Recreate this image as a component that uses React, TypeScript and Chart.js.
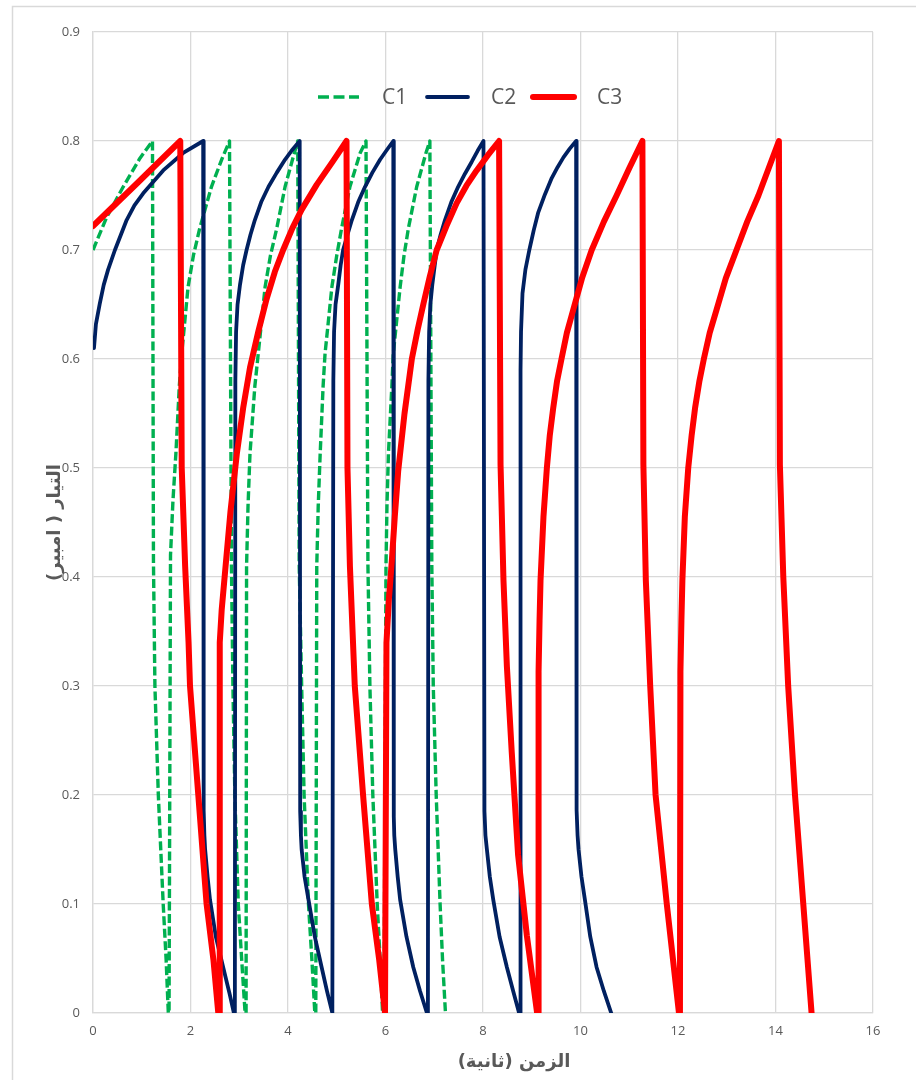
import React, { useEffect, useRef } from "react";
import { Chart, registerables } from "chart.js";

Chart.register(...registerables);

// ---------- data ----------
const seriesLabels = ["C1", "C2", "C3"];
const xAxisTitle = "الزمن (ثانية)";
const yAxisTitle = "التيار ( امبير)";
const xMin = 0, xMax = 16, xStep = 2;
const yMin = 0, yMax = 0.9, yStep = 0.1;

// [time (s), current (A)]
const c1Points = [
  [0.00,0.700],[0.28,0.730],[0.62,0.758],[0.96,0.784],[1.22,0.800],
  [1.24,0.415],[1.27,0.30],[1.34,0.20],[1.44,0.10],[1.50,0.049],[1.545,0],
  [1.56,0],[1.59,0.42],[1.64,0.47],[1.70,0.513],[1.77,0.575],[1.82,0.605],[1.95,0.666],[2.06,0.695],[2.19,0.72],[2.43,0.758],[2.64,0.783],[2.80,0.80],
  [2.84,0.41],[2.87,0.30],[2.91,0.20],[2.98,0.10],[3.05,0.049],[3.12,0],
  [3.14,0],[3.15,0.41],[3.18,0.465],[3.22,0.513],[3.32,0.575],[3.39,0.605],[3.53,0.666],[3.64,0.695],[3.77,0.72],[3.94,0.758],[4.08,0.781],[4.20,0.80],
  [4.23,0.41],[4.28,0.30],[4.33,0.20],[4.42,0.10],[4.49,0.049],[4.55,0],
  [4.57,0],[4.59,0.41],[4.62,0.465],[4.66,0.513],[4.72,0.575],[4.76,0.605],[4.90,0.666],[5.00,0.695],[5.10,0.72],[5.27,0.758],[5.48,0.789],[5.60,0.80],
  [5.64,0.41],[5.68,0.30],[5.74,0.20],[5.83,0.10],[5.89,0.049],[5.94,0],
  [5.97,0],[6.01,0.41],[6.03,0.465],[6.06,0.513],[6.13,0.575],[6.16,0.605],[6.30,0.666],[6.38,0.695],[6.47,0.72],[6.64,0.758],[6.83,0.789],[6.91,0.80],
  [6.95,0.41],[6.98,0.30],[7.04,0.20],[7.12,0.10],[7.17,0.049],[7.23,0],
];

const c2Points = [
  [0.02,0.610],[0.06,0.632],[0.14,0.651],[0.22,0.668],[0.31,0.682],[0.45,0.700],[0.69,0.7275],[0.85,0.741],[1.03,0.752],[1.44,0.773],[1.85,0.789],[2.26,0.800],
  [2.27,0.186],[2.285,0.163],[2.30,0.15],[2.35,0.125],[2.40,0.104],[2.52,0.07],[2.67,0.042],[2.80,0.018],[2.89,0],
  [2.91,0],[2.92,0.58],[2.935,0.625],[2.965,0.65],[3.015,0.668],[3.08,0.686],[3.15,0.70],[3.23,0.714],[3.32,0.7275],[3.45,0.744],[3.60,0.758],[3.77,0.771],[3.94,0.783],[4.09,0.792],[4.24,0.80],
  [4.25,0.185],[4.265,0.163],[4.28,0.15],[4.34,0.125],[4.42,0.104],[4.55,0.07],[4.69,0.042],[4.80,0.02],[4.91,0],
  [4.92,0],[4.93,0.58],[4.945,0.625],[4.975,0.65],[5.03,0.668],[5.08,0.686],[5.13,0.70],[5.22,0.714],[5.31,0.7275],[5.44,0.744],[5.58,0.758],[5.73,0.771],[5.89,0.783],[6.03,0.792],[6.16,0.80],
  [6.17,0.18],[6.18,0.163],[6.20,0.15],[6.25,0.125],[6.30,0.104],[6.43,0.07],[6.57,0.042],[6.71,0.02],[6.85,0],
  [6.87,0],[6.88,0.58],[6.895,0.625],[6.92,0.65],[6.96,0.668],[7.01,0.686],[7.05,0.70],[7.13,0.714],[7.22,0.7275],[7.35,0.744],[7.49,0.758],[7.63,0.77],[7.77,0.781],[7.89,0.791],[8.01,0.80],
  [8.03,0.185],[8.05,0.163],[8.08,0.15],[8.14,0.125],[8.21,0.104],[8.34,0.07],[8.49,0.042],[8.62,0.02],[8.74,0],
  [8.76,0],[8.77,0.59],[8.78,0.625],[8.81,0.66],[8.87,0.682],[8.95,0.70],[9.04,0.718],[9.13,0.734],[9.27,0.751],[9.41,0.766],[9.53,0.776],[9.65,0.785],[9.78,0.793],[9.91,0.80],
  [9.92,0.186],[9.94,0.163],[9.96,0.15],[10.02,0.125],[10.09,0.104],[10.20,0.07],[10.33,0.042],[10.48,0.02],[10.63,0],
];

const c3Points = [
  [0.00,0.722],[0.90,0.761],[1.79,0.800],
  [1.82,0.50],[1.89,0.41],[1.96,0.34],[1.99,0.30],[2.16,0.20],[2.33,0.10],[2.47,0.049],[2.57,0],
  [2.59,0],[2.60,0.34],[2.64,0.37],[2.72,0.41],[2.82,0.46],[2.95,0.513],[3.08,0.555],[3.22,0.592],[3.39,0.625],[3.56,0.655],[3.73,0.68],[3.90,0.70],[4.09,0.72],[4.28,0.737],[4.59,0.76],[4.93,0.782],[5.20,0.80],
  [5.22,0.50],[5.27,0.41],[5.37,0.30],[5.54,0.20],[5.72,0.10],[5.87,0.049],[5.99,0],
  [6.01,0],[6.02,0.34],[6.07,0.38],[6.13,0.415],[6.19,0.455],[6.26,0.497],[6.39,0.55],[6.54,0.60],[6.66,0.627],[6.78,0.651],[6.91,0.676],[7.05,0.70],[7.25,0.722],[7.46,0.743],[7.66,0.759],[7.87,0.773],[8.10,0.787],[8.33,0.80],
  [8.36,0.503],[8.42,0.397],[8.49,0.318],[8.59,0.239],[8.72,0.145],[8.90,0.071],[9.11,0],
  [9.13,0],[9.14,0.313],[9.16,0.36],[9.18,0.397],[9.24,0.455],[9.31,0.50],[9.37,0.53],[9.44,0.555],[9.52,0.58],[9.61,0.60],[9.72,0.624],[9.85,0.645],[10.03,0.674],[10.23,0.70],[10.48,0.726],[10.74,0.75],[11.00,0.775],[11.27,0.80],
  [11.29,0.503],[11.34,0.397],[11.43,0.30],[11.54,0.20],[11.77,0.10],[12.02,0],
  [12.04,0],[12.05,0.313],[12.07,0.36],[12.09,0.397],[12.14,0.455],[12.21,0.50],[12.28,0.53],[12.35,0.555],[12.44,0.58],[12.53,0.60],[12.65,0.624],[12.79,0.645],[12.98,0.674],[13.20,0.70],[13.42,0.726],[13.65,0.75],[13.86,0.775],[14.07,0.80],
  [14.09,0.503],[14.16,0.40],[14.26,0.30],[14.40,0.20],[14.57,0.10],[14.74,0],
];

// ---------- styles ----------
const GRID = "#d9d9d9";
const TEXT = "#595959";
const TICK_FONT = { family: "'Open Sans', 'DejaVu Sans', sans-serif", size: 13 };

const toPoints = (pts: number[][]) => pts.map(([x, y]) => ({ x, y }));

const framePlugin = {
  id: "frame",
  beforeDraw(chart: any) {
    const { ctx, width, height } = chart;
    ctx.save();
    ctx.fillStyle = "#ffffff";
    ctx.fillRect(0, 0, width, height);
    ctx.strokeStyle = GRID;
    ctx.lineWidth = 1.5;
    ctx.strokeRect(12.5, 6.5, width + 10, height + 10);
    ctx.restore();
  },
};

const decorPlugin = {
  id: "decor",
  afterDraw(chart: any) {
    const { ctx, chartArea } = chart;
    ctx.save();
    // legend
    const legendY = 97;
    let x0 = 318;
    const sampleLen = 41;
    chart.data.datasets.forEach((ds: any, i: number) => {
      const dashed = ds.borderDash && ds.borderDash.length;
      ctx.save();
      ctx.strokeStyle = ds.borderColor;
      ctx.lineWidth = ds.borderWidth;
      ctx.lineCap = dashed ? "butt" : "round";
      ctx.setLineDash(dashed ? [11, 4.5] : []);
      ctx.beginPath();
      ctx.moveTo(x0, legendY);
      ctx.lineTo(x0 + sampleLen, legendY);
      ctx.stroke();
      ctx.restore();
      ctx.fillStyle = TEXT;
      ctx.font = "21px 'Open Sans', sans-serif";
      ctx.textAlign = "left";
      ctx.textBaseline = "middle";
      ctx.fillText(ds.label, x0 + 64, legendY + 1);
      x0 += i === 0 ? 109 : 106;
    });
    // axis titles
    ctx.fillStyle = TEXT;
    ctx.font = "bold 18px 'DejaVu Sans', sans-serif";
    ctx.textAlign = "center";
    ctx.textBaseline = "middle";
    (ctx as any).direction = "rtl";
    ctx.fillText(xAxisTitle, 514, chartArea.bottom + 49);
    ctx.save();
    ctx.translate(chartArea.left - 38, (chartArea.top + chartArea.bottom) / 2);
    ctx.rotate(-Math.PI / 2);
    ctx.fillText(yAxisTitle, 0, 0);
    ctx.restore();
    ctx.restore();
  },
};

export default function App() {
  const ref = useRef<HTMLCanvasElement | null>(null);
  useEffect(() => {
    if (!ref.current) return;
    const chart = new Chart(ref.current, {
      type: "scatter",
      data: {
        datasets: [
          {
            label: seriesLabels[0],
            data: toPoints(c1Points),
            showLine: true,
            borderColor: "#00b050",
            backgroundColor: "#00b050",
            borderWidth: 3.4,
            borderDash: [9, 3.5],
            borderCapStyle: "butt",
            borderJoinStyle: "round",
            pointRadius: 0,
            tension: 0,
            order: 3,
          },
          {
            label: seriesLabels[1],
            data: toPoints(c2Points),
            showLine: true,
            borderColor: "#002060",
            backgroundColor: "#002060",
            borderWidth: 3.8,
            borderCapStyle: "round",
            borderJoinStyle: "round",
            pointRadius: 0,
            tension: 0,
            order: 2,
          },
          {
            label: seriesLabels[2],
            data: toPoints(c3Points),
            showLine: true,
            borderColor: "#ff0000",
            backgroundColor: "#ff0000",
            borderWidth: 6,
            borderCapStyle: "round",
            borderJoinStyle: "round",
            pointRadius: 0,
            tension: 0,
            order: 1,
          },
        ],
      },
      options: {
        responsive: false,
        animation: false,
        devicePixelRatio: 1,
        layout: { padding: { left: 0, right: 43, top: 32, bottom: 0 } },
        plugins: { legend: { display: false }, tooltip: { enabled: false } },
        scales: {
          x: {
            type: "linear",
            min: xMin,
            max: xMax,
            ticks: { stepSize: xStep, padding: 10, color: TEXT, font: TICK_FONT },
            grid: { color: GRID, lineWidth: 1.3, drawTicks: false },
            border: { display: true, color: GRID, width: 1.3 },
            afterFit: (s: any) => { s.height = 67; },
          },
          y: {
            type: "linear",
            min: yMin,
            max: yMax,
            ticks: { stepSize: yStep, padding: 13, color: TEXT, font: TICK_FONT },
            grid: { color: GRID, lineWidth: 1.3, drawTicks: false },
            border: { display: true, color: GRID, width: 1.3 },
            afterFit: (s: any) => { s.width = 93; },
          },
        },
      } as any,
      plugins: [framePlugin, decorPlugin],
    });
    return () => chart.destroy();
  }, []);
  return (
    <div style={{ position: "fixed", left: 0, top: 0, width: 916, height: 1080, background: "#fff" }}>
      <canvas ref={ref} width={916} height={1080} style={{ display: "block", width: 916, height: 1080 }} />
    </div>
  );
}
